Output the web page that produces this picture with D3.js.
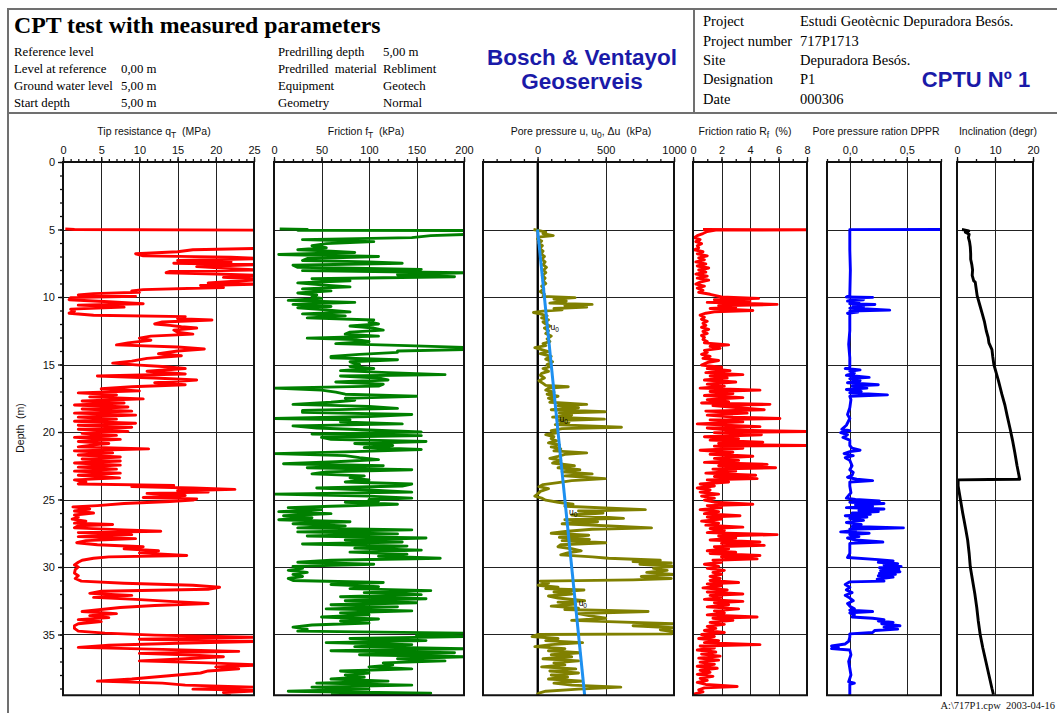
<!DOCTYPE html>
<html>
<head>
<meta charset="utf-8">
<script src="https://cdn.jsdelivr.net/npm/d3@7"></script>
<style>
  body { margin: 0; background: #fff; }
  svg { display: block; }
  text { white-space: pre; }
</style>
</head>
<body>
<svg id="chart" width="1057" height="713"></svg>
<script>
// ---- data ----
const depthTicks = [0, 5, 10, 15, 20, 25, 30, 35];
const tipTicks = [0, 5, 10, 15, 20, 25];
const frictionTicks = [0, 50, 100, 150, 200];
const poreTicks = [0, 500, 1000];
const ratioTicks = [0, 2, 4, 6, 8];
const dpprTicks = [0, 0.5];
const inclinationTicks = [0, 10, 20];

// [depth (m), qT (MPa)]
const tipResistance = [[4.95,0.3],[5.0,1.5],[5.05,26],[6.4,26],[6.5,17],[6.65,15],[6.8,9.5],[6.95,10.5],[7.05,22],[7.15,26],[7.3,15],[7.4,22],[7.5,14.5],[7.6,26],[7.75,17.5],[7.9,22],[8.0,26],[8.1,14],[8.2,13.5],[8.3,20],[8.4,26],[8.55,21],[8.7,26],[8.85,22],[8.95,19],[9.05,26],[9.15,18],[9.3,21],[9.45,10.5],[9.55,9],[9.65,10],[9.75,4],[9.85,2],[9.95,9.5],[10.05,1],[10.2,0.8],[10.35,6],[10.5,10.5],[10.6,2],[10.75,8],[10.9,1],[11.05,1.5],[11.2,0.8],[11.35,4],[11.45,16],[11.6,15],[11.7,19.5],[11.85,13],[12.0,12],[12.1,14],[12.2,15.5],[12.3,17.5],[12.45,14.5],[12.6,15],[12.75,17],[12.9,11.5],[13.05,10],[13.2,11.5],[13.4,8.5],[13.55,7],[13.7,15],[13.85,18.5],[14.0,15],[14.2,12.5],[14.35,15.5],[14.55,11],[14.75,9],[14.9,6.5],[15.05,10],[15.15,13],[15.3,16],[15.5,11],[15.7,16],[15.85,4.5],[16.0,12],[16.15,17.5],[16.35,12],[16.5,16],[16.65,9],[16.8,5],[16.95,10],[17.1,2],[17.25,7],[17.4,3.5],[17.55,10.5],[17.7,2.5],[17.85,8],[18.0,1.5],[18.15,8.5],[18.3,2.5],[18.45,9],[18.6,1.5],[18.75,9.5],[18.9,2],[19.05,7],[19.2,1.5],[19.35,9.5],[19.5,2],[19.65,9],[19.8,2],[19.95,8.5],[20.1,2.5],[20.25,7],[20.4,1.5],[20.55,7.5],[20.7,2],[20.85,6],[20.95,4],[21.1,2],[21.25,11.2],[21.4,1.5],[21.55,6.5],[21.7,2],[21.85,7.5],[22.0,2.5],[22.15,7.5],[22.3,1.5],[22.45,7.5],[22.6,2],[22.75,7],[22.9,1.5],[23.05,7.5],[23.2,2],[23.4,7.4],[23.55,1.5],[23.7,3],[23.85,2],[23.95,14.5],[24.05,9],[24.15,17],[24.25,22.5],[24.35,15],[24.45,19],[24.55,11],[24.7,16],[24.85,10.5],[24.95,17.5],[25.05,17],[25.15,14],[25.3,8],[25.45,4.5],[25.55,1.3],[25.7,3.5],[25.85,1.5],[26.0,4],[26.15,1.5],[26.3,2],[26.45,1.2],[26.6,3],[26.75,1.5],[26.85,6.5],[26.95,2],[27.1,1.5],[27.25,8],[27.35,12.8],[27.45,2],[27.6,9],[27.75,2],[27.9,9.5],[28.05,3],[28.2,1.8],[28.35,4.5],[28.5,10.5],[28.65,8],[28.8,12.5],[28.95,10],[29.15,16.2],[29.25,6],[29.35,4],[29.5,2.5],[29.65,2],[29.85,1.5],[30.0,2],[30.2,1.6],[30.45,1.5],[30.65,2],[30.85,1.6],[31.05,2.4],[31.2,8],[31.35,17],[31.5,20.5],[31.65,19],[31.8,5],[31.95,3.5],[32.1,9],[32.25,4],[32.4,9.5],[32.55,14],[32.7,19],[32.85,12],[33.0,7.5],[33.15,5],[33.3,2.5],[33.45,7],[33.6,3.5],[33.75,6],[33.9,2],[34.05,5],[34.2,2],[34.35,1.5],[34.55,1.5],[34.75,2],[34.9,5.5],[35.05,12],[35.2,25],[35.35,10],[35.5,26],[35.65,15],[35.8,6],[35.95,2],[36.1,13],[36.25,23],[36.4,10],[36.5,16],[36.65,21],[36.8,16],[36.95,10],[37.1,19],[37.25,26],[37.4,20],[37.55,23],[37.7,19],[37.85,18],[38.0,15],[38.15,12],[38.3,9],[38.45,4.5],[38.6,13],[38.75,16],[38.9,25],[39.05,17],[39.15,26],[39.3,21],[39.45,22]];

// [depth (m), fT (kPa)]
const sleeveFriction = [[4.95,6],[5.0,35],[5.05,25],[5.08,210],[5.35,210],[5.45,165],[5.6,145],[5.75,30],[5.9,105],[6.05,55],[6.2,40],[6.35,55],[6.5,25],[6.6,60],[6.7,85],[6.85,5],[7.0,110],[7.15,35],[7.3,30],[7.4,100],[7.5,135],[7.65,20],[7.8,25],[7.95,155],[8.05,30],[8.2,200],[8.35,130],[8.5,190],[8.65,40],[8.8,80],[8.95,25],[9.1,50],[9.25,80],[9.4,30],[9.55,60],[9.7,25],[9.85,45],[10.0,40],[10.1,50],[10.25,15],[10.4,85],[10.55,20],[10.7,60],[10.8,25],[10.95,55],[11.1,80],[11.25,30],[11.4,75],[11.55,35],[11.7,105],[11.85,100],[12.0,110],[12.15,80],[12.3,105],[12.45,115],[12.6,80],[12.75,75],[12.9,110],[13.05,35],[13.15,85],[13.3,100],[13.45,65],[13.6,140],[13.75,210],[13.9,200],[14.0,130],[14.1,130],[14.25,90],[14.4,60],[14.5,60],[14.65,130],[14.8,80],[15.0,90],[15.15,80],[15.3,105],[15.45,70],[15.6,120],[15.75,180],[15.85,70],[16.0,110],[16.15,120],[16.3,65],[16.45,115],[16.6,110],[16.75,0],[16.9,50],[17.05,65],[17.2,75],[17.35,150],[17.5,75],[17.65,85],[17.8,60],[17.95,20],[18.1,100],[18.25,130],[18.4,30],[18.55,30],[18.7,145],[18.85,100],[19.0,0],[19.1,80],[19.25,70],[19.4,135],[19.55,20],[19.7,45],[19.85,100],[20.0,155],[20.1,80],[20.15,40],[20.27,155],[20.4,50],[20.55,60],[20.7,160],[20.85,85],[21.0,125],[21.15,95],[21.3,155],[21.45,85],[21.6,0],[21.75,75],[21.9,90],[22.05,110],[22.2,65],[22.35,10],[22.5,115],[22.65,35],[22.8,145],[22.95,55],[23.1,40],[23.25,95],[23.4,80],[23.55,100],[23.7,75],[23.85,145],[24.0,135],[24.15,45],[24.3,100],[24.45,145],[24.6,0],[24.75,100],[24.9,145],[25.0,100],[25.1,110],[25.2,75],[25.35,130],[25.5,60],[25.6,15],[25.75,50],[25.9,5],[26.05,60],[26.2,10],[26.35,40],[26.5,5],[26.65,80],[26.8,20],[26.95,75],[27.1,25],[27.25,145],[27.4,25],[27.55,130],[27.7,35],[27.85,160],[28.0,75],[28.15,135],[28.3,30],[28.45,140],[28.6,85],[28.75,155],[28.9,80],[29.05,140],[29.2,110],[29.35,175],[29.5,60],[29.65,25],[29.8,105],[29.95,20],[30.1,30],[30.25,15],[30.4,35],[30.55,20],[30.7,30],[30.85,15],[31.0,20],[31.15,115],[31.3,60],[31.45,110],[31.6,80],[31.75,165],[31.9,95],[32.05,155],[32.2,70],[32.35,160],[32.5,75],[32.65,150],[32.8,60],[32.95,130],[33.1,55],[33.25,145],[33.4,70],[33.55,100],[33.7,50],[33.85,110],[34.0,70],[34.15,100],[34.3,40],[34.45,20],[34.6,35],[34.75,25],[34.9,200],[35.05,150],[35.15,205],[35.3,80],[35.45,160],[35.6,55],[35.75,145],[35.9,85],[36.05,200],[36.2,60],[36.35,190],[36.5,90],[36.65,205],[36.8,130],[36.95,180],[37.1,115],[37.25,125],[37.4,100],[37.55,145],[37.7,70],[37.85,100],[38.0,75],[38.15,95],[38.3,60],[38.45,120],[38.6,45],[38.75,145],[38.9,40],[39.05,100],[39.2,15],[39.35,165],[39.45,60]];

// [depth (m), u (kPa)]
const porePressure = [[5.0,-30],[5.1,20],[5.2,60],[5.3,40],[5.45,115],[5.55,20],[5.7,0],[5.85,30],[6.0,10],[6.2,35],[6.4,15],[6.6,40],[6.8,25],[7.0,50],[7.2,30],[7.4,55],[7.6,40],[7.8,65],[8.0,45],[8.2,60],[8.4,35],[8.6,55],[8.8,40],[9.0,60],[9.2,30],[9.4,45],[9.6,20],[9.8,50],[9.95,40],[10.05,275],[10.15,120],[10.3,210],[10.45,90],[10.55,400],[10.65,200],[10.75,360],[10.85,120],[10.95,180],[11.05,40],[11.15,-30],[11.25,20],[11.4,70],[11.55,30],[11.7,80],[11.85,40],[12.0,60],[12.15,90],[12.3,50],[12.5,80],[12.7,60],[12.9,100],[13.1,70],[13.3,90],[13.45,40],[13.6,60],[13.75,-20],[13.9,30],[14.05,80],[14.2,20],[14.4,100],[14.6,60],[14.8,110],[15.0,70],[15.15,90],[15.3,40],[15.5,80],[15.65,30],[15.8,20],[16.0,50],[16.2,10],[16.4,40],[16.55,60],[16.65,225],[16.75,80],[16.9,60],[17.05,120],[17.2,70],[17.35,150],[17.5,80],[17.65,120],[17.8,90],[17.95,360],[18.05,150],[18.2,300],[18.35,100],[18.5,495],[18.6,160],[18.75,250],[18.9,110],[19.05,490],[19.15,150],[19.3,230],[19.45,130],[19.65,615],[19.75,180],[19.9,100],[20.05,150],[20.2,60],[20.35,120],[20.5,100],[20.65,140],[20.8,80],[20.95,160],[21.1,100],[21.25,170],[21.4,120],[21.55,360],[21.65,200],[21.8,150],[21.95,90],[22.1,170],[22.3,110],[22.5,270],[22.65,150],[22.8,310],[22.95,180],[23.1,400],[23.25,200],[23.45,495],[23.6,250],[23.75,150],[23.9,40],[24.05,10],[24.2,80],[24.4,20],[24.6,0],[24.75,-20],[24.9,30],[25.05,60],[25.2,150],[25.35,260],[25.5,200],[25.75,790],[25.85,300],[26.0,480],[26.15,250],[26.4,630],[26.5,200],[26.65,440],[26.8,180],[27.1,835],[27.2,400],[27.35,220],[27.5,100],[27.65,375],[27.8,160],[27.95,380],[28.05,180],[28.2,500],[28.35,170],[28.5,150],[28.65,250],[28.8,320],[28.95,220],[29.1,170],[29.25,400],[29.35,520],[29.5,900],[29.6,700],[29.7,980],[29.8,750],[29.95,1000],[30.1,850],[30.25,950],[30.4,800],[30.55,1000],[30.7,760],[30.85,980],[30.95,700],[31.05,20],[31.2,80],[31.35,5],[31.5,150],[31.6,60],[31.7,340],[31.85,120],[32.0,250],[32.15,80],[32.3,150],[32.5,345],[32.6,150],[32.75,280],[32.9,100],[33.05,300],[33.15,200],[33.3,810],[33.45,300],[33.6,375],[33.8,500],[33.95,250],[34.05,520],[34.2,995],[34.35,700],[34.5,995],[34.65,900],[34.8,1000],[34.95,980],[35.0,5],[35.15,-40],[35.3,150],[35.45,60],[35.6,330],[35.75,100],[35.9,-20],[36.05,200],[36.2,80],[36.35,310],[36.5,100],[36.65,250],[36.8,40],[36.95,300],[37.1,120],[37.25,200],[37.4,30],[37.55,280],[37.7,90],[37.85,300],[38.0,100],[38.15,220],[38.3,80],[38.45,330],[38.6,120],[38.75,250],[38.9,610],[39.05,300],[39.2,60],[39.35,10],[39.45,-5]];

// [depth (m), u0 (kPa)] hydrostatic line, and where its u0 labels sit
const hydrostatic = [[5, 0], [39.5, 345]];
const hydroLabels = [[12.2, 72], [19.0, 139], [25.9, 209], [32.7, 279]];

// [depth (m), Rf (%)]
const frictionRatio = [[5.0,0.7],[5.02,8.5],[5.05,1.6],[5.15,1.0],[5.3,0.7],[5.45,0.3],[5.6,0.1],[5.75,0.5],[5.9,0.2],[6.05,0.6],[6.2,0.3],[6.35,0.4],[6.5,0.1],[6.65,0.7],[6.8,0.3],[6.95,1.0],[7.1,0.4],[7.25,0.8],[7.4,0.2],[7.55,0.9],[7.7,0.3],[7.85,1.1],[8.0,0.4],[8.15,0.9],[8.3,0.2],[8.45,1.0],[8.6,0.3],[8.75,1.1],[8.9,0.5],[9.05,0.2],[9.2,0.8],[9.35,0.3],[9.5,0.7],[9.65,0.4],[9.8,1.2],[9.9,1.6],[10.0,2.0],[10.1,4.6],[10.2,1.5],[10.3,4.0],[10.4,1.0],[10.55,5.9],[10.65,1.8],[10.75,3.0],[10.85,1.2],[11.0,4.2],[11.1,1.5],[11.2,0.9],[11.35,0.5],[11.5,0.8],[11.65,0.6],[11.8,1.0],[11.95,0.7],[12.1,0.9],[12.25,0.6],[12.4,1.1],[12.55,0.7],[12.7,1.0],[12.85,0.6],[13.0,0.8],[13.15,0.7],[13.3,1.0],[13.4,0.8],[13.55,2.5],[13.65,1.2],[13.8,1.9],[13.95,0.8],[14.1,1.0],[14.25,0.6],[14.4,1.2],[14.55,0.7],[14.7,1.8],[14.85,1.0],[15.05,0.6],[15.2,2.0],[15.3,1.0],[15.45,2.6],[15.6,0.9],[15.75,3.5],[15.85,1.2],[16.0,2.4],[16.15,0.8],[16.3,3.0],[16.45,1.0],[16.6,2.2],[16.75,0.5],[16.9,4.7],[17.0,1.2],[17.15,2.8],[17.3,0.8],[17.45,3.5],[17.6,1.0],[17.75,2.5],[17.85,0.6],[17.95,5.4],[18.05,1.4],[18.2,3.2],[18.35,5.0],[18.45,0.9],[18.6,3.8],[18.75,1.0],[18.9,2.8],[19.0,6.1],[19.1,1.2],[19.25,3.5],[19.4,0.3],[19.6,4.7],[19.7,1.0],[19.85,2.5],[19.97,8.5],[20.05,1.5],[20.2,4.8],[20.35,0.8],[20.5,3.2],[20.6,1.2],[20.75,4.9],[20.85,1.8],[20.95,3.0],[21.0,8.5],[21.05,1.5],[21.2,3.5],[21.35,0.5],[21.5,2.8],[21.65,1.2],[21.8,4.2],[21.95,1.5],[22.1,3.2],[22.25,0.8],[22.4,5.2],[22.5,1.8],[22.65,5.8],[22.75,1.4],[22.9,3.0],[23.05,0.9],[23.2,4.4],[23.3,1.5],[23.45,4.5],[23.55,1.0],[23.7,2.5],[23.85,0.5],[24.0,1.5],[24.15,0.3],[24.3,1.2],[24.45,0.5],[24.6,1.8],[24.75,0.6],[24.9,1.5],[25.05,0.8],[25.2,1.5],[25.35,4.2],[25.45,1.0],[25.6,2.0],[25.75,0.5],[25.9,1.8],[26.05,0.8],[26.2,3.3],[26.3,1.0],[26.45,2.0],[26.6,0.6],[26.75,1.8],[26.9,0.9],[27.05,3.5],[27.15,1.2],[27.3,2.2],[27.45,1.0],[27.6,5.9],[27.7,1.8],[27.85,3.0],[28.0,1.2],[28.15,4.7],[28.25,2.0],[28.4,5.0],[28.5,1.5],[28.65,2.5],[28.8,1.0],[28.9,3.0],[29.0,1.2],[29.15,4.7],[29.25,2.0],[29.4,4.5],[29.5,1.4],[29.65,2.0],[29.8,0.8],[29.95,1.8],[30.1,1.0],[30.25,2.2],[30.4,1.4],[30.55,2.0],[30.7,1.2],[30.85,1.9],[31.0,1.2],[31.15,3.2],[31.25,1.0],[31.4,2.0],[31.55,0.7],[31.7,2.4],[31.85,1.0],[32.0,3.5],[32.1,1.2],[32.25,2.0],[32.4,0.8],[32.55,3.5],[32.65,1.5],[32.8,2.5],[32.95,1.0],[33.1,3.2],[33.25,1.5],[33.4,2.2],[33.55,1.0],[33.7,4.5],[33.8,1.4],[33.95,2.8],[34.1,1.2],[34.25,2.2],[34.4,1.0],[34.55,1.6],[34.7,0.8],[34.85,2.2],[35.0,0.6],[35.15,1.5],[35.3,0.4],[35.45,1.8],[35.6,0.8],[35.75,4.7],[35.85,0.5],[36.0,1.5],[36.15,0.3],[36.3,1.6],[36.45,0.6],[36.6,1.9],[36.75,0.4],[36.9,1.8],[37.05,0.5],[37.2,1.5],[37.35,0.3],[37.5,1.7],[37.65,0.5],[37.8,1.2],[37.95,0.3],[38.1,1.4],[38.25,0.5],[38.4,1.0],[38.55,0.3],[38.7,0.9],[38.85,3.1],[38.95,0.8],[39.1,0.4],[39.25,0.7],[39.4,0.1],[39.5,0.0]];

// [depth (m), DPPR (-)]
const dppr = [[5.0,0.85],[5.01,0.0],[6.5,0.0],[8.0,0.005],[9.9,0.0],[10.0,-0.03],[10.03,0.2],[10.1,0.0],[10.2,0.12],[10.3,-0.02],[10.4,0.08],[10.5,0.0],[10.56,0.22],[10.62,0.03],[10.72,0.12],[10.82,0.0],[10.97,0.35],[11.05,0.0],[11.12,0.07],[11.2,-0.02],[11.3,0.0],[12.5,0.0],[13.5,-0.01],[14.5,0.0],[15.2,0.0],[15.3,-0.04],[15.4,0.09],[15.5,0.0],[15.65,0.04],[15.8,-0.03],[15.95,0.17],[16.05,0.0],[16.2,0.09],[16.35,-0.02],[16.5,0.25],[16.6,0.02],[16.75,0.15],[16.85,-0.03],[17.0,0.1],[17.1,0.0],[17.25,0.33],[17.35,0.0],[17.6,0.01],[18.2,0.0],[18.7,-0.02],[19.0,0.0],[19.5,-0.03],[19.8,-0.07],[19.9,0.0],[20.05,-0.08],[20.2,-0.02],[20.4,-0.06],[20.6,0.0],[21.0,0.0],[21.2,0.02],[21.35,0.09],[21.45,0.0],[21.6,-0.05],[21.75,0.03],[21.9,-0.04],[22.1,0.0],[22.5,0.02],[22.8,0.0],[23.0,0.03],[23.2,0.02],[23.35,-0.02],[23.5,0.06],[23.6,0.2],[23.7,0.0],[24.0,0.0],[24.5,0.01],[24.9,-0.03],[25.0,0.05],[25.1,0.26],[25.2,0.0],[25.3,0.3],[25.4,0.05],[25.5,0.2],[25.6,-0.03],[25.7,0.3],[25.8,0.08],[25.9,0.25],[26.0,0.02],[26.1,0.18],[26.2,-0.04],[26.3,0.15],[26.4,0.0],[26.55,0.12],[26.7,-0.03],[26.85,0.1],[27.0,0.02],[27.1,0.47],[27.2,0.0],[27.3,0.05],[27.4,-0.08],[27.5,0.17],[27.6,0.0],[27.75,0.08],[27.85,-0.02],[28.0,0.05],[28.15,0.29],[28.25,0.0],[28.5,0.0],[29.0,0.0],[29.3,-0.02],[29.45,0.25],[29.55,0.38],[29.65,0.25],[29.75,0.42],[29.85,0.3],[29.95,0.45],[30.05,0.26],[30.15,0.43],[30.25,0.27],[30.35,0.44],[30.45,0.26],[30.55,0.4],[30.65,0.25],[30.75,0.38],[30.9,0.24],[31.05,0.3],[31.1,0.0],[31.3,-0.04],[31.5,0.0],[31.7,-0.03],[31.9,0.02],[32.1,-0.04],[32.3,0.0],[32.5,0.03],[32.7,-0.02],[32.9,0.0],[33.1,0.04],[33.2,0.0],[33.3,0.2],[33.4,0.0],[33.55,0.04],[33.7,0.02],[33.8,0.2],[33.9,0.3],[34.0,0.25],[34.1,0.38],[34.2,0.28],[34.35,0.44],[34.45,0.3],[34.6,0.42],[34.7,0.22],[34.85,0.2],[34.95,0.0],[35.2,0.0],[35.5,-0.01],[35.7,-0.04],[35.85,-0.16],[35.95,-0.1],[36.05,-0.16],[36.15,0.0],[36.5,0.01],[37.0,-0.01],[37.5,0.0],[38.0,0.01],[38.5,-0.01],[38.6,0.04],[38.7,0.0],[39.0,0.0],[39.5,0.0]];

// [depth (m), inclination (degr)]
const inclination = [[5.0,1.3],[5.1,3.1],[5.2,2.2],[5.35,3.2],[5.6,3.0],[5.9,3.3],[6.3,3.5],[6.8,3.6],[7.2,3.6],[7.6,3.9],[8.0,4.1],[8.4,4.0],[8.8,4.4],[8.9,4.8],[9.3,5.0],[9.9,5.3],[10.5,5.9],[11.2,6.6],[11.8,7.2],[12.5,7.7],[13.0,8.2],[13.4,8.4],[13.9,9.2],[14.4,9.4],[15.0,9.7],[15.6,10.3],[16.2,10.9],[17.2,11.8],[18.0,12.6],[18.8,13.2],[19.8,14.0],[20.6,14.6],[21.5,15.2],[22.5,15.8],[23.5,16.5],[23.52,8.5],[23.55,0.3],[24.0,0.3],[24.5,0.6],[25.0,0.9],[25.5,1.2],[26.0,1.5],[26.6,1.9],[27.2,2.3],[28.0,2.8],[29.0,3.2],[30.0,3.5],[31.0,4.1],[32.0,4.7],[33.0,5.2],[34.0,5.6],[35.0,6.1],[36.0,6.8],[37.0,7.6],[38.0,8.4],[39.0,9.2],[39.45,9.6]];

// header texts
const headerLeft = [['Reference level', ''], ['Level at reference', '0,00 m'], ['Ground water level', '5,00 m'], ['Start depth', '5,00 m']];
const headerMid = [['Predrilling depth', '5,00 m'], ['Predrilled  material', 'Rebliment'], ['Equipment', 'Geotech'], ['Geometry', 'Normal']];
const headerRight = [['Project', 'Estudi Geotècnic Depuradora Besós.'], ['Project number', '717P1713'], ['Site', 'Depuradora Besós.'], ['Designation', 'P1'], ['Date', '000306']];

// ---- drawing ----
const SANS = 'Liberation Sans, Arial, sans-serif';
const SERIF = 'Liberation Serif, Times New Roman, serif';
const svg = d3.select('#chart');
const plotTop = 162, plotBottom = 695.25;

const y = d3.scaleLinear().domain([0, 39.5]).range([plotTop, plotBottom]);

// header box
const hdr = svg.append('g');
hdr.append('path')
  .attr('d', 'M1060,9 H8 V713 M8,113 H1060 M694,9 V113')
  .attr('fill', 'none').attr('stroke', '#707070').attr('stroke-width', 2);

hdr.append('text').attr('x', 14).attr('y', 33)
  .attr('font-family', SERIF).attr('font-weight', 'bold').attr('font-size', 23.8)
  .text('CPT test with measured parameters');

const rowY = [56, 73, 90, 107];
headerLeft.forEach((r, i) => {
  hdr.append('text').attr('x', 14).attr('y', rowY[i]).attr('font-family', SERIF).attr('font-size', 12.8).text(r[0]);
  hdr.append('text').attr('x', 121).attr('y', rowY[i]).attr('font-family', SERIF).attr('font-size', 12.8).text(r[1]);
});
headerMid.forEach((r, i) => {
  hdr.append('text').attr('x', 278).attr('y', rowY[i]).attr('font-family', SERIF).attr('font-size', 12.8).text(r[0]);
  hdr.append('text').attr('x', 383).attr('y', rowY[i]).attr('font-family', SERIF).attr('font-size', 12.8).text(r[1]);
});

const blue = '#1a1aa8';
hdr.append('text').attr('x', 582).attr('y', 65).attr('text-anchor', 'middle')
  .attr('font-family', SANS).attr('font-weight', 'bold').attr('font-size', 22.5).attr('fill', blue)
  .text('Bosch & Ventayol');
hdr.append('text').attr('x', 582).attr('y', 89).attr('text-anchor', 'middle')
  .attr('font-family', SANS).attr('font-weight', 'bold').attr('font-size', 22.5).attr('fill', blue)
  .text('Geoserveis');

const rightY = [26, 46, 65, 84, 104];
headerRight.forEach((r, i) => {
  hdr.append('text').attr('x', 703).attr('y', rightY[i]).attr('font-family', SERIF).attr('font-size', 14.5).text(r[0]);
  hdr.append('text').attr('x', 800).attr('y', rightY[i]).attr('font-family', SERIF).attr('font-size', 14.5).text(r[1]);
});
hdr.append('text').attr('x', 976).attr('y', 87).attr('text-anchor', 'middle')
  .attr('font-family', SANS).attr('font-weight', 'bold').attr('font-size', 22).attr('fill', blue)
  .text('CPTU Nº 1');

// panels
const comma = d => String(d).replace('.', ',');
const dpprFmt = d => d3.format('.1f')(d).replace('.', ',');

const panels = [
  { range: [63, 254], domain: [0, 25], ticks: tipTicks, minor: 1, fmt: comma, titleX: 154,
    title: [['Tip resistance q', 0], ['T', 1], ['  (MPa)', 0]],
    series: [{ data: tipResistance, color: '#ff0000' }] },
  { range: [274, 464], domain: [0, 200], ticks: frictionTicks, minor: 10, fmt: comma, titleX: 366,
    title: [['Friction f', 0], ['T', 1], ['  (kPa)', 0]],
    series: [{ data: sleeveFriction, color: '#008000' }] },
  { range: [483, 674], domain: [-400, 1000], ticks: poreTicks, minor: 100, fmt: comma, titleX: 581, zeroLine: true,
    title: [['Pore pressure u, u', 0], ['0', 1], [', Δu  (kPa)', 0]],
    series: [{ data: porePressure, color: '#808000' }, { data: hydrostatic, color: '#1e90f0', width: 3 }] },
  { range: [693, 807], domain: [0, 8], ticks: ratioTicks, minor: 1, fmt: comma, titleX: 745,
    title: [['Friction ratio R', 0], ['f', 1], ['  (%)', 0]],
    series: [{ data: frictionRatio, color: '#ff0000' }] },
  { range: [827, 941], domain: [-0.2, 0.8], ticks: dpprTicks, minor: 0.1, fmt: dpprFmt, titleX: 876,
    title: [['Pore pressure ration DPPR', 0]],
    series: [{ data: dppr, color: '#0000ff' }] },
  { range: [957, 1033], domain: [0, 20], ticks: inclinationTicks, minor: 5, fmt: comma, titleX: 998,
    title: [['Inclination (degr)', 0]],
    series: [{ data: inclination, color: '#000000' }] }
];

const defs = svg.append('defs');

panels.forEach((p, i) => {
  const x = d3.scaleLinear().domain(p.domain).range(p.range);
  const g = svg.append('g');
  const [x0, x1] = p.range;

  defs.append('clipPath').attr('id', 'clip' + i)
    .append('rect').attr('x', x0).attr('y', plotTop).attr('width', x1 - x0).attr('height', plotBottom - plotTop);

  // grid
  g.append('g').selectAll('line').data(p.ticks.filter(t => t > p.domain[0] && t < p.domain[1]))
    .join('line')
    .attr('x1', d => Math.round(x(d)) + 0.5).attr('x2', d => Math.round(x(d)) + 0.5)
    .attr('y1', plotTop).attr('y2', plotBottom)
    .attr('stroke', '#222').attr('stroke-width', 1);
  g.append('g').selectAll('line').data(depthTicks.filter(t => t > 0))
    .join('line')
    .attr('x1', x0).attr('x2', x1)
    .attr('y1', d => Math.round(y(d)) + 0.5).attr('y2', d => Math.round(y(d)) + 0.5)
    .attr('stroke', '#222').attr('stroke-width', 1);
  if (p.zeroLine) {
    g.append('line').attr('x1', x(0)).attr('x2', x(0)).attr('y1', plotTop).attr('y2', plotBottom)
      .attr('stroke', '#000').attr('stroke-width', 2);
  }

  // series
  const line = d3.line().x(d => x(d[1])).y(d => y(d[0]));
  const sg = g.append('g').attr('clip-path', `url(#clip${i})`);
  p.series.forEach(s => {
    sg.append('path').datum(s.data)
      .attr('fill', 'none').attr('stroke', s.color)
      .attr('stroke-width', s.width || 2.9)
      .attr('stroke-linejoin', 'round').attr('stroke-linecap', 'butt')
      .attr('d', line);
  });

  // u0 labels on the hydrostatic line
  if (p.zeroLine) {
    const lab = g.append('g').selectAll('text').data(hydroLabels).join('text')
      .attr('x', d => x(d[1]) + 3).attr('y', d => y(d[0]) + 3)
      .attr('font-family', SANS).attr('font-size', 8.5).attr('fill', '#000');
    lab.append('tspan').text('u');
    lab.append('tspan').attr('font-size', 6.5).attr('dy', 2).text('0');
  }

  // frame
  g.append('rect').attr('x', x0).attr('y', plotTop).attr('width', x1 - x0).attr('height', plotBottom - plotTop)
    .attr('fill', 'none').attr('stroke', '#111').attr('stroke-width', 2);

  // top axis: minor + major ticks
  const minorVals = d3.range(Math.ceil(p.domain[0] / p.minor) * p.minor, p.domain[1] + p.minor / 2, p.minor)
    .filter(v => v >= p.domain[0] - 1e-9 && v <= p.domain[1] + 1e-9);
  const minorAxis = d3.axisTop(x).tickValues(minorVals).tickSize(3).tickFormat('');
  const majorAxis = d3.axisTop(x).tickValues(p.ticks).tickSize(5).tickPadding(3).tickFormat(p.fmt);
  [minorAxis, majorAxis].forEach(ax => {
    const a = g.append('g').attr('transform', `translate(0,${plotTop})`).call(ax);
    a.select('.domain').remove();
    a.selectAll('line').attr('stroke', '#111').attr('stroke-width', 1.3);
    a.selectAll('text').attr('font-family', SANS).attr('font-size', 11).attr('fill', '#111');
  });

  // title with subscripts
  const t = g.append('text').attr('x', p.titleX).attr('y', 135).attr('text-anchor', 'middle')
    .attr('font-family', SANS).attr('font-size', 10.5).attr('fill', '#111');
  p.title.forEach(([txt, sub]) => {
    const ts = t.append('tspan').text(txt);
    if (sub) ts.attr('dy', 3).attr('font-size', 8.5);
    else if (t.selectAll('tspan').size() > 1) ts.attr('dy', -3);
  });
});

// depth axis
const depthAxis = svg.append('g').attr('transform', 'translate(63,0)');
const dMinor = depthAxis.append('g').call(d3.axisLeft(y).tickValues(d3.range(0, 40, 1)).tickSize(3).tickFormat(''));
const dMajor = depthAxis.append('g').call(d3.axisLeft(y).tickValues(depthTicks).tickSize(5).tickPadding(3));
[dMinor, dMajor].forEach(a => {
  a.select('.domain').remove();
  a.selectAll('line').attr('stroke', '#111').attr('stroke-width', 1.3);
  a.selectAll('text').attr('font-family', SANS).attr('font-size', 11).attr('fill', '#111');
});
svg.append('text').attr('transform', 'translate(24,428) rotate(-90)').attr('text-anchor', 'middle')
  .attr('font-family', SANS).attr('font-size', 10.5).attr('fill', '#111').text('Depth  (m)');

// footer
svg.append('text').attr('x', 1055).attr('y', 709).attr('text-anchor', 'end')
  .attr('font-family', SERIF).attr('font-size', 10.5).attr('fill', '#111')
  .text('A:\\717P1.cpw  2003-04-16');
</script>
</body>
</html>
